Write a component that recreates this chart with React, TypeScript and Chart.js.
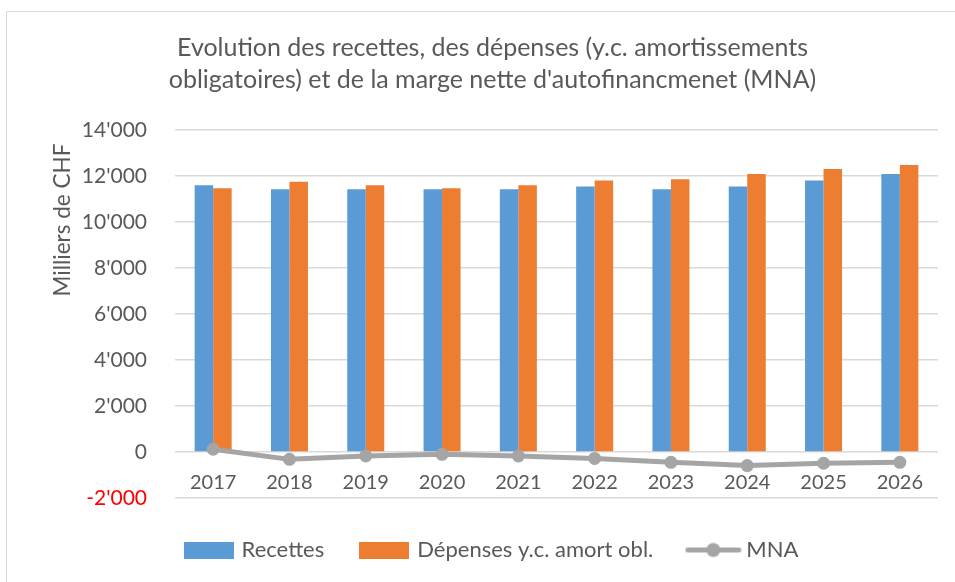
import React, { useEffect, useRef } from 'react';
import { Chart, registerables } from 'chart.js';

Chart.register(...registerables);

const categories = ['2017', '2018', '2019', '2020', '2021', '2022', '2023', '2024', '2025', '2026'];
const recettes = [11600, 11420, 11420, 11420, 11420, 11540, 11420, 11540, 11800, 12090];
const depenses = [11470, 11750, 11600, 11470, 11600, 11800, 11860, 12090, 12300, 12480];
const mna = [120, -320, -170, -100, -170, -280, -450, -590, -490, -450];
const seriesNames = ['Recettes', 'Dépenses y.c. amort obl.', 'MNA'];
const titleLines = [
  'Evolution des recettes, des dépenses (y.c. amortissements',
  "obligatoires) et de la marge nette d'autofinancmenet (MNA)",
];
const yAxisTitle = 'Milliers de CHF';
const yMin = -2000;
const yMax = 14000;
const yStep = 2000;

const BLUE = '#5B9BD5';
const ORANGE = '#ED7D31';
const GRAY = '#A5A5A5';
const TEXT = '#595959';
const FONT = 'Lato';

const fmt = (v: number) => {
  const s = Math.abs(v).toString().replace(/\B(?=(\d{3})+(?!\d))/g, "'");
  return (v < 0 ? '-' : '') + s;
};

function boxImage(color: string) {
  const c = document.createElement('canvas');
  c.width = 50;
  c.height = 17;
  const g = c.getContext('2d')!;
  g.fillStyle = color;
  g.fillRect(0, 0, 50, 17);
  return c;
}

function lineImage(color: string) {
  const c = document.createElement('canvas');
  c.width = 57;
  c.height = 17;
  const g = c.getContext('2d')!;
  g.strokeStyle = color;
  g.lineWidth = 5;
  g.lineCap = 'round';
  g.beginPath();
  g.moveTo(3, 8.5);
  g.lineTo(54, 8.5);
  g.stroke();
  g.fillStyle = color;
  g.beginPath();
  g.arc(28.5, 8.5, 7, 0, Math.PI * 2);
  g.fill();
  return c;
}

const yTitlePlugin = {
  id: 'yTitle',
  afterDraw(chart: any) {
    const ctx = chart.ctx;
    ctx.save();
    ctx.translate(63, 220);
    ctx.rotate(-Math.PI / 2);
    ctx.font = `22.5px ${FONT}`;
    ctx.fillStyle = TEXT;
    ctx.textAlign = 'center';
    ctx.textBaseline = 'middle';
    ctx.fillText(yAxisTitle, 0, 0);
    ctx.restore();
  },
};

export default function App() {
  const ref = useRef<HTMLCanvasElement>(null);

  useEffect(() => {
    if (!ref.current) return;
    const images = [boxImage(BLUE), boxImage(ORANGE), lineImage(GRAY)];
    const chart = new Chart(ref.current, {
      type: 'bar',
      data: {
        labels: categories,
        datasets: [
          {
            type: 'bar',
            label: seriesNames[0],
            data: recettes,
            backgroundColor: BLUE,
            barPercentage: 1,
            categoryPercentage: 0.485,
            order: 1,
          },
          {
            type: 'bar',
            label: seriesNames[1],
            data: depenses,
            backgroundColor: ORANGE,
            barPercentage: 1,
            categoryPercentage: 0.485,
            order: 1,
          },
          {
            type: 'line',
            label: seriesNames[2],
            data: mna,
            borderColor: GRAY,
            backgroundColor: GRAY,
            borderWidth: 5,
            pointRadius: 6.5,
            pointBackgroundColor: GRAY,
            pointBorderWidth: 0,
            tension: 0,
            order: 0,
          } as any,
        ],
      },
      options: {
        responsive: false,
        animation: false,
        layout: { padding: { left: 47, right: 17, top: 0, bottom: 11 } },
        plugins: {
          tooltip: { enabled: false },
          title: {
            display: true,
            text: titleLines,
            color: TEXT,
            font: { family: FONT, size: 25, weight: 'normal', lineHeight: 32 / 25 },
            padding: { top: 32, bottom: 34 },
          },
          legend: {
            position: 'bottom',
            align: 'center',
            title: { display: true, text: '', font: { size: 1, lineHeight: 1 }, padding: { top: 2, bottom: 0 } },
            labels: {
              usePointStyle: true,
              pointStyleWidth: 44,
              padding: 38,
              color: TEXT,
              font: { family: FONT, size: 22 },
              generateLabels: () =>
                seriesNames.map((name, i) => ({
                  text: name,
                  pointStyle: images[i],
                  fillStyle: [BLUE, ORANGE, GRAY][i],
                  strokeStyle: [BLUE, ORANGE, GRAY][i],
                  lineWidth: 0,
                  hidden: false,
                  datasetIndex: i,
                  fontColor: TEXT,
                })) as any,
            },
          },
        },
        scales: {
          x: {
            type: 'category',
            position: { y: 0 } as any,
            grid: { display: false },
            border: { display: false },
            ticks: {
              color: TEXT,
              font: { family: FONT, size: 20 },
              padding: 11,
              maxRotation: 0,
            },
          },
          y: {
            type: 'linear',
            min: yMin,
            max: yMax,
            afterFit: (s: any) => {
              s.width = 128;
            },
            grid: { color: '#D9D9D9', lineWidth: 1.5, drawTicks: false },
            border: { display: false },
            ticks: {
              stepSize: yStep,
              padding: 28,
              font: { family: FONT, size: 21 },
              color: (c: any) => (c.tick && c.tick.value < 0 ? '#FF0000' : TEXT),
              callback: (v: any) => fmt(Number(v)),
            },
          },
        },
      },
      plugins: [yTitlePlugin],
    });
    return () => chart.destroy();
  }, []);

  return (
    <div
      style={{
        position: 'fixed',
        left: 0,
        top: 0,
        width: 955,
        height: 582,
        background: '#fff',
        overflow: 'hidden',
      }}
    >
      <div
        style={{
          position: 'absolute',
          left: 6,
          top: 11,
          width: 980,
          height: 620,
          border: '1px solid #D9D9D9',
        }}
      />
      <canvas ref={ref} width={955} height={582} style={{ position: 'absolute', left: 0, top: 0 }} />
    </div>
  );
}
